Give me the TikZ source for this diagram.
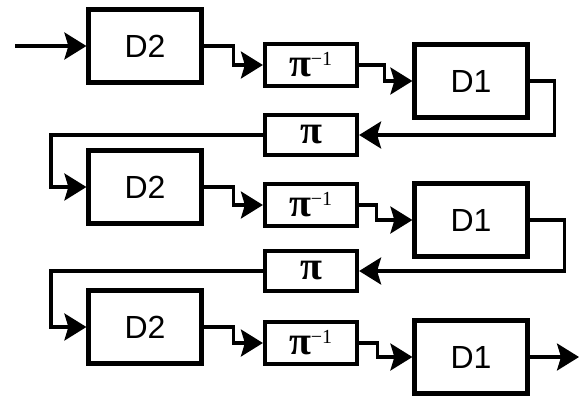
\documentclass[tikz,border=0pt]{standalone}
\usepackage{fontspec}
\setmainfont{Liberation Serif}
\newfontfamily\labelsans{Liberation Sans}
\usetikzlibrary{arrows.meta}
\newcommand{\dlabel}[1]{{\labelsans\fontsize{32}{32}\selectfont #1}}
\newcommand{\perm}{{\fontsize{40}{40}\selectfont\bfseries π}}
\newcommand{\invperm}{{\fontsize{40}{40}\selectfont\bfseries π\kern-1pt\raisebox{11pt}{\fontsize{20}{20}\selectfont\mdseries −1}}}
\begin{document}
\begin{tikzpicture}[x=1pt,y=-1pt,
  decbox/.style={draw,line width=4.2pt,inner sep=0pt,minimum width=113pt,minimum height=73pt},
  permbox/.style={draw,line width=4.2pt,inner sep=0pt,minimum width=92pt,minimum height=42pt},
  link/.style={line width=3.2pt,-{Stealth[length=22pt,width=27pt,inset=4pt]}}]
\useasboundingbox (0,0) rectangle (580,396);

% decoder stages, three iterations
\node[decbox] (d2a) at (145,46) {\dlabel{D2}};
\node[permbox] (pia) at (311,65) {\invperm};
\node[decbox] (d1a) at (471,81) {\dlabel{D1}};
\node[permbox,minimum height=40pt] (pa) at (311,135) {\perm};

\node[decbox] (d2b) at (145,187) {\dlabel{D2}};
\node[permbox] (pib) at (311,205) {\invperm};
\node[decbox] (d1b) at (471,220) {\dlabel{D1}};
\node[permbox,minimum height=40pt] (pb) at (311,271) {\perm};

\node[decbox] (d2c) at (145,327) {\dlabel{D2}};
\node[permbox] (pic) at (311,343) {\invperm};
\node[decbox] (d1c) at (471,357) {\dlabel{D1}};

\coordinate (in) at (15,46);
\coordinate (out) at (579,357);

% forward path
\draw[link] (in) -- (d2a.west);
\draw[link] (d2a.east) -- ++(30,0) |- (pia.west);
\draw[link] (pia.east) -- ++(25,0) |- (d1a.west);
\draw[link] (d1a.east) -- ++(25,0) |- (pa.east);
\draw[link] (pa.west) -- ++(-212,0) |- (d2b.west);

\draw[link] (d2b.east) -- ++(30,0) |- (pib.west);
\draw[link] (pib.east) -- ++(17,0) |- (d1b.west);
\draw[link] (d1b.east) -- ++(35,0) |- (pb.east);
\draw[link] (pb.west) -- ++(-212,0) |- (d2c.west);

\draw[link] (d2c.east) -- ++(30,0) |- (pic.west);
\draw[link] (pic.east) -- ++(18,0) |- (d1c.west);
\draw[link] (d1c.east) -- (out);
\end{tikzpicture}
\end{document}
